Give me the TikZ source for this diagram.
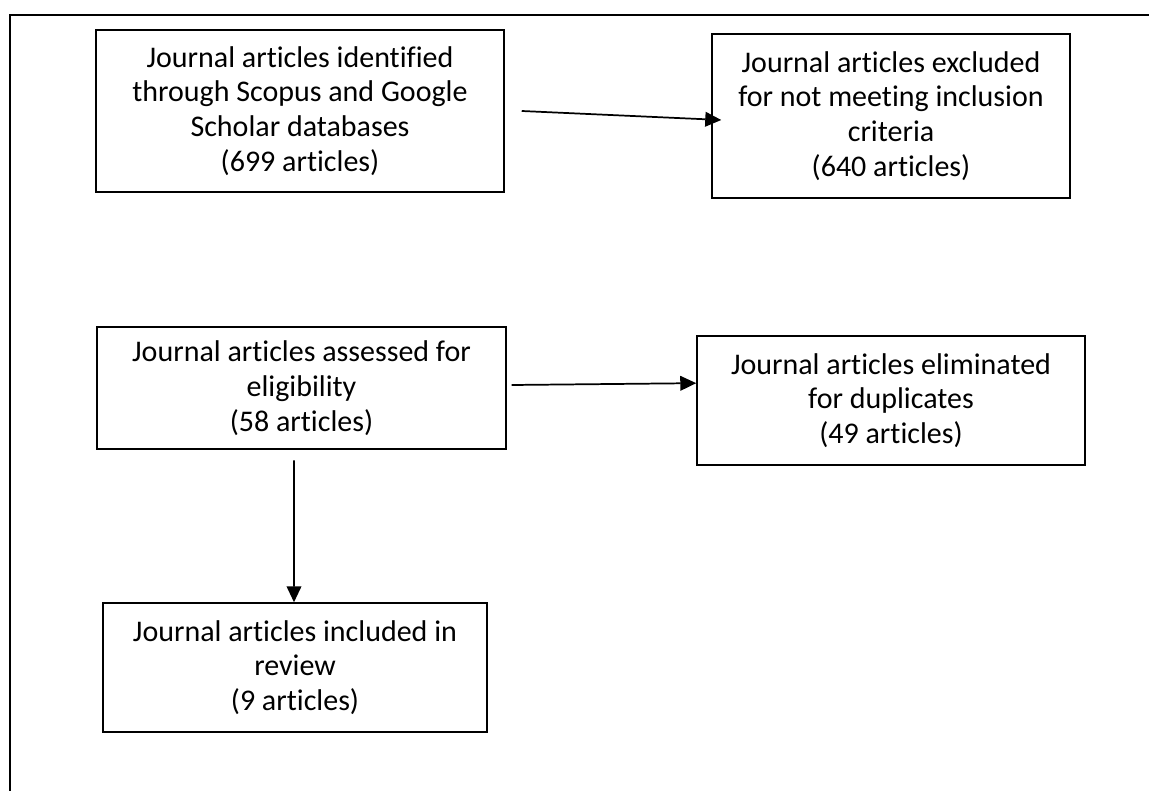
\documentclass[tikz,border=0pt]{standalone}
\usepackage{fontspec}
\setmainfont{Carlito}[Ligatures=NoCommon]
\usepackage{tikz}
\usetikzlibrary{arrows.meta,calc}
\tikzset{
  prbox/.style={draw,line width=1.1pt,align=center,inner sep=0pt,font=\fontsize{22.5pt}{26pt}\selectfont},
  prflow/.style={-{Triangle[length=12pt,width=11pt]},line width=1.3pt},
  prframe/.style={line width=2pt},
}

\begin{document}
\begin{tikzpicture}[x=0.75pt,y=-0.75pt]
\useasboundingbox (0,0) rectangle (1149,791);
\draw[prframe] (10,791) -- (10,15) -- (1149,15);
\node[prbox,minimum width=306pt,minimum height=121.5pt] (ident) at (300,111) {Journal articles identified\\through Scopus and Google\\Scholar databases\\(699 articles)};
\node[prbox,minimum width=268.5pt,minimum height=123pt] (excl) at (891,116) {Journal articles excluded\\for not meeting inclusion\\criteria\\(640 articles)};
\node[prbox,minimum width=306.75pt,minimum height=91.5pt] (elig) at (301.5,388) {Journal articles assessed for\\eligibility\\(58 articles)};
\node[prbox,minimum width=291pt,minimum height=96.75pt] (dupl) at (891,400.5) {Journal articles eliminated\\for duplicates\\(49 articles)};
\node[prbox,minimum width=288pt,minimum height=96.75pt] (incl) at (295,667.5) {Journal articles included in\\review\\(9 articles)};
\draw[prflow] ([xshift=12.75pt]ident.east) -- ([shift={(7.5pt,-3pt)}]excl.west);
\draw[prflow] ([shift={(3.75pt,2.25pt)}]elig.east) -- ([yshift=13pt]dupl.west);
\draw[prflow] ([shift={(-5.6pt,-8pt)}]elig.south) -- ([xshift=-0.75pt]incl.north);
\end{tikzpicture}
\end{document}
